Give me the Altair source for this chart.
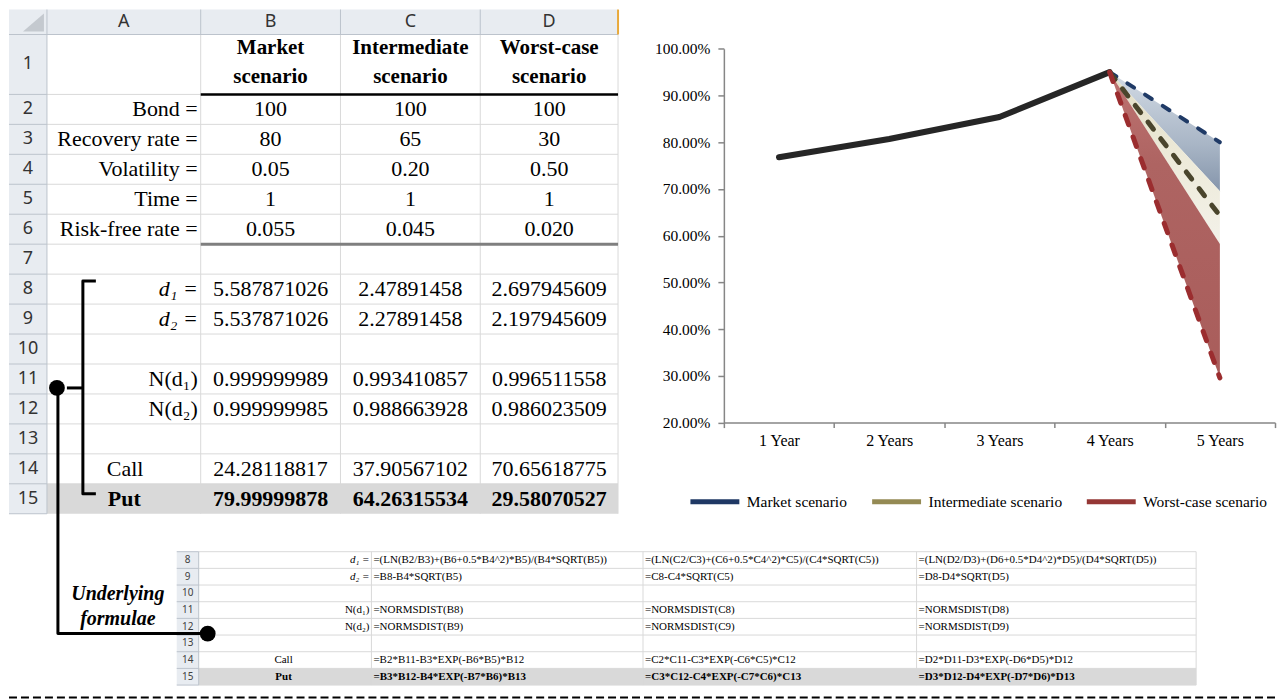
import altair as alt
import pandas as pd

SERIF = "Liberation Serif"
SANS = "Noto Sans"

# ---------------- chart data ----------------
years = ["1 Year", "2 Years", "3 Years", "4 Years", "5 Years"]
history = [0.768, 0.807, 0.854, 0.950]          # 1..4 years (common path)
scenarios = ["Market scenario", "Intermediate scenario", "Worst-case scenario"]
scenario_5y = [0.7999, 0.6426, 0.2958]           # 5-year value per scenario
band_top = [0.7999, 0.695, 0.582]                # shaded bands at 5 years
band_bottom = [0.695, 0.582, 0.2958]
legend_colors = ["#1F3864", "#948A54", "#953735"]
line_colors = ["#1F3A66", "#4A452C", "#9B2D2F"]

# ---------------- spreadsheet data ----------------
col_letters = ["A", "B", "C", "D"]
head_line1 = ["Market", "Intermediate", "Worst-case"]
head_line2 = ["scenario", "scenario", "scenario"]
input_labels = ["Bond =", "Recovery rate =", "Volatility =", "Time =", "Risk-free rate ="]
bond = ["100", "100", "100"]
recovery = ["80", "65", "30"]
volatility = ["0.05", "0.20", "0.50"]
time_ = ["1", "1", "1"]
riskfree = ["0.055", "0.045", "0.020"]
d_labels = ["d\u2081 =", "d\u2082 ="]
n_labels = ["N(d\u2081)", "N(d\u2082)"]
d1 = ["5.587871026", "2.47891458", "2.697945609"]
d2 = ["5.537871026", "2.27891458", "2.197945609"]
nd1 = ["0.999999989", "0.993410857", "0.996511558"]
nd2 = ["0.999999985", "0.988663928", "0.986023509"]
call = ["24.28118817", "37.90567102", "70.65618775"]
put = ["79.99999878", "64.26315534", "29.58070527"]

f_d1 = ["=(LN(B2/B3)+(B6+0.5*B4^2)*B5)/(B4*SQRT(B5))",
        "=(LN(C2/C3)+(C6+0.5*C4^2)*C5)/(C4*SQRT(C5))",
        "=(LN(D2/D3)+(D6+0.5*D4^2)*D5)/(D4*SQRT(D5))"]
f_d2 = ["=B8-B4*SQRT(B5)", "=C8-C4*SQRT(C5)", "=D8-D4*SQRT(D5)"]
f_nd1 = ["=NORMSDIST(B8)", "=NORMSDIST(C8)", "=NORMSDIST(D8)"]
f_nd2 = ["=NORMSDIST(B9)", "=NORMSDIST(C9)", "=NORMSDIST(D9)"]
f_call = ["=B2*B11-B3*EXP(-B6*B5)*B12", "=C2*C11-C3*EXP(-C6*C5)*C12", "=D2*D11-D3*EXP(-D6*D5)*D12"]
f_put = ["=B3*B12-B4*EXP(-B7*B6)*B13", "=C3*C12-C4*EXP(-C7*C6)*C13", "=D3*D12-D4*EXP(-D7*D6)*D13"]
caption = ["Underlying", "formulae"]

# ---------------- layout (page frame) ----------------
W, H = 1269, 692
S_X = [8, 46, 200, 340, 480, 618]


def s_top(r):
    return 33 if r == 1 else 93 + 30 * (r - 2)


def s_bot(r):
    return 93 if r == 1 else s_top(r) + 30


def s_mid(r):
    return (s_top(r) + s_bot(r)) / 2


s_cc = [(S_X[i] + S_X[i + 1]) / 2 for i in range(1, 5)]  # A..D centres

F_X = [176, 198, 371, 643, 917, 1197]
F_TOP, F_H = 551, 16.7


def f_top(r):
    return F_TOP + F_H * (r - 8)


def f_mid(r):
    return f_top(r) + F_H / 2


fx = alt.X("x:Q", scale=alt.Scale(domain=[8, 8 + W], range=[0, W], nice=False, zero=False), axis=None)
fy = alt.Y("y:Q", scale=alt.Scale(domain=[8, 8 + H], range=[0, H], nice=False, zero=False), axis=None)


def texts(rows, size, align="center", weight="normal", style="normal", font=SERIF, color="#000000"):
    df = pd.DataFrame(rows, columns=["x", "y", "t"])
    return alt.Chart(df).mark_text(fontSize=size, align=align, baseline="middle", fontWeight=weight,
                                   fontStyle=style, font=font, color=color).encode(x=fx, y=fy, text="t:N")


def rects(rows, fill):
    df = pd.DataFrame(rows, columns=["x", "x2", "y", "y2"])
    return alt.Chart(df).mark_rect(fill=fill, strokeWidth=0).encode(x=fx, x2="x2:Q", y=fy, y2="y2:Q")


def rules(rows, color, width, dash=None):
    df = pd.DataFrame(rows, columns=["x", "x2", "y", "y2"])
    kw = dict(color=color, strokeWidth=width)
    if dash:
        kw["strokeDash"] = dash
    return alt.Chart(df).mark_rule(**kw).encode(x=fx, x2="x2:Q", y=fy, y2="y2:Q")


def paths(rows, width):
    df = pd.DataFrame(rows, columns=["id", "o", "x", "y"])
    return alt.Chart(df).mark_line(color="#000000", strokeWidth=width, strokeJoin="round").encode(
        x=fx, y=fy, detail="id:N", order="o:Q")


def dots(rows, size):
    df = pd.DataFrame(rows, columns=["x", "y"])
    return alt.Chart(df).mark_point(filled=True, shape="circle", size=size, color="#000000", opacity=1).encode(x=fx, y=fy)


HDR_FILL = "#E8ECF1"
HDR_LINE = "#BCC3CC"
GRID = "#D9D9D9"

sheet_layers = []
# --- main sheet ---
sheet_layers.append(rects([(8, 618, 8, 33), (8, 46, 33, 513)], HDR_FILL))
sheet_layers.append(rects([(46, 618, 483, 513)], "#D9D9D9"))
tri = pd.DataFrame({"x": [22, 43], "y": [30, 12], "y2": [30, 30]})
sheet_layers.append(alt.Chart(tri).mark_area(color="#C4C9CF").encode(x=fx, y=fy, y2="y2:Q"))
grid_rows = []
for r in range(1, 15):
    grid_rows.append((46, 618, s_bot(r), s_bot(r)))
for xx in S_X[2:]:
    grid_rows.append((xx, xx, 33, 513))
sheet_layers.append(rules(grid_rows, GRID, 1))
hdr_rows = [(8, 618, 33, 33), (46, 46, 8, 513)]
for xx in S_X[2:5]:
    hdr_rows.append((xx, xx, 8, 33))
for r in range(1, 16):
    hdr_rows.append((8, 46, s_bot(r), s_bot(r)))
sheet_layers.append(rules(hdr_rows, HDR_LINE, 1))
sheet_layers.append(rules([(618, 618, 8, 33)], "#E9A93A", 2))
sheet_layers.append(rules([(200, 618, 93, 93)], "#000000", 2.5))
sheet_layers.append(rules([(200, 618, 243, 243)], "#7F7F7F", 3))

sheet_layers.append(texts([(s_cc[i], 20.5, col_letters[i]) for i in range(4)], 18, font=SANS, color="#333333"))
sheet_layers.append(texts([(27, s_mid(r), str(r)) for r in range(1, 16)], 18, font=SANS, color="#333333"))
sheet_layers.append(texts([(s_cc[i + 1], 47, head_line1[i]) for i in range(3)] +
                          [(s_cc[i + 1], 76, head_line2[i]) for i in range(3)], 21, weight="bold"))
lab_rows = [(197, s_mid(2 + i), input_labels[i]) for i in range(5)] + \
           [(197, s_mid(11 + i), n_labels[i]) for i in range(2)]
sheet_layers.append(texts(lab_rows, 22, align="right"))
sheet_layers.append(texts([(197, s_mid(8 + i), d_labels[i]) for i in range(2)], 22, align="right", style="italic"))
val_rows = []
for r, vals in [(2, bond), (3, recovery), (4, volatility), (5, time_), (6, riskfree),
                (8, d1), (9, d2), (11, nd1), (12, nd2), (14, call)]:
    for i in range(3):
        val_rows.append((s_cc[i + 1], s_mid(r), vals[i]))
sheet_layers.append(texts(val_rows, 22))
sheet_layers.append(texts([(s_cc[i + 1], s_mid(15), put[i]) for i in range(3)], 22, weight="bold"))
sheet_layers.append(texts([(106, s_mid(14), "Call")], 22, align="left"))
sheet_layers.append(texts([(107, s_mid(15), "Put")], 22, align="left", weight="bold"))

# --- formula sheet ---
sheet_layers.append(rects([(176, 198, F_TOP, f_top(16))], HDR_FILL))
sheet_layers.append(rects([(198, 1197, f_top(15), f_top(16))], "#D9D9D9"))
fg = []
for r in range(8, 17):
    fg.append((198, 1197, f_top(r), f_top(r)))
for xx in F_X[2:]:
    fg.append((xx, xx, F_TOP, f_top(16)))
sheet_layers.append(rules(fg, GRID, 1))
fh = [(198, 198, F_TOP, f_top(16))] + [(176, 198, f_top(r), f_top(r)) for r in range(8, 17)]
sheet_layers.append(rules(fh, HDR_LINE, 1))
sheet_layers.append(texts([(187, f_mid(r), str(r)) for r in range(8, 16)], 10, font=SANS, color="#404040"))
sheet_layers.append(texts([(369, f_mid(8 + i), d_labels[i]) for i in range(2)], 11, align="right", style="italic"))
sheet_layers.append(texts([(369, f_mid(11 + i), n_labels[i]) for i in range(2)], 11, align="right"))
sheet_layers.append(texts([(283, f_mid(14), "Call")], 11))
sheet_layers.append(texts([(283, f_mid(15), "Put")], 11, weight="bold"))
frows = []
for r, vals in [(8, f_d1), (9, f_d2), (11, f_nd1), (12, f_nd2), (14, f_call)]:
    for i in range(3):
        frows.append((F_X[2 + i] + 2, f_mid(r), vals[i]))
sheet_layers.append(texts(frows, 11, align="left"))
sheet_layers.append(texts([(F_X[2 + i] + 2, f_mid(15), f_put[i]) for i in range(3)], 11, align="left", weight="bold"))
sheet_layers.append(texts([(117, 593, caption[0]), (117, 618, caption[1])], 20, weight="bold", style="italic"))

# --- connectors ---
sheet_layers.append(paths([("br", 0, 95, 280), ("br", 1, 82, 280), ("br", 2, 82, 493), ("br", 3, 95, 493),
                           ("tick", 0, 66, 387), ("tick", 1, 82, 387),
                           ("link", 0, 57, 387), ("link", 1, 57, 633), ("link", 2, 207, 633)], 3))
sheet_layers.append(dots([(56, 387), (207, 633)], 250))
sheet_layers.append(rules([(8, 8 + W, 697, 697)], "#000000", 2, dash=[8, 4]))

sheet_group = alt.layer(*sheet_layers)

# ---------------- line chart ----------------
GRAY = "#868686"
PX0, PX1 = 724 - 8, 1276 - 8
PY_TOP, PY_BOT = 47.3 - 8, 421.7 - 8

ax_x = alt.Axis(orient="bottom", offset=PY_BOT - H, tickBand="extent", tickSize=5, tickWidth=1.5,
                tickColor=GRAY, domainColor=GRAY, domainWidth=1.5, labelAngle=0, labelFont=SERIF,
                labelFontSize=16, labelColor="#000000", labelPadding=5, grid=False, title=None)
ax_y = alt.Axis(orient="left", offset=-PX0, values=[0.2, 0.3, 0.4, 0.5, 0.6, 0.7, 0.8, 0.9, 1.0],
                format=".2%", tickSize=6, tickWidth=1.5, tickColor=GRAY, domainColor=GRAY, domainWidth=1.5,
                labelFont=SERIF, labelFontSize=15.5, labelColor="#000000", labelPadding=8, grid=False, title=None)
x_scale = alt.Scale(type="band", domain=years, range=[PX0, PX1], paddingInner=0, paddingOuter=0)
y_scale = alt.Scale(domain=[0.2, 1.0], range=[PY_BOT, PY_TOP], nice=False, zero=False)
cx = alt.X("year:N", scale=x_scale, bandPosition=0.5, axis=ax_x, title=None)


def cy(field):
    return alt.Y(field, scale=y_scale, axis=ax_y, title=None)


grads = [
    [("#D3DBE5", 0), ("#A9B6C6", 0.6), ("#8595AB", 1)],
    [("#E2DDC4", 0), ("#EDEAD9", 0.5), ("#F3F1E9", 1)],
    [("#BE7371", 0), ("#AE6462", 0.3), ("#A95D5B", 1)],
]
chart_layers = []
for i in range(3):
    adf = pd.DataFrame({"year": [years[3], years[4]],
                        "top": [history[3], band_top[i]],
                        "bottom": [history[3], band_bottom[i]]})
    g = alt.Gradient(gradient="linear", x1=0, x2=0, y1=0, y2=1,
                     stops=[alt.GradientStop(color=c, offset=o) for c, o in grads[i]])
    chart_layers.append(alt.Chart(adf).mark_area(fill=g, opacity=1).encode(
        x=cx, y=cy("top:Q"), y2=alt.Y2("bottom:Q")))

hist_df = pd.DataFrame({"year": years[:4], "v": history})
chart_layers.append(alt.Chart(hist_df).mark_line(color="#262626", strokeWidth=6, strokeCap="round",
                                                 strokeJoin="round").encode(x=cx, y=cy("v:Q")))
dash_df = pd.DataFrame({"scenario": [s for s in scenarios for _ in range(2)],
                        "year": [years[3], years[4]] * 3,
                        "v": [val for s5 in scenario_5y for val in (history[3], s5)]})
dash_styles = [([8, 13], 4), ([9, 12], 5), ([10, 13], 5)]
for i, s in enumerate(scenarios):
    sub = dash_df[dash_df["scenario"] == s]
    chart_layers.append(alt.Chart(sub).mark_line(color=line_colors[i], strokeWidth=dash_styles[i][1],
                                                 strokeDash=dash_styles[i][0], strokeCap="round").encode(
        x=cx, y=cy("v:Q")))
chart_layers.append(alt.Chart(dash_df).mark_line(opacity=0, strokeWidth=5).encode(
    x=cx, y=cy("v:Q"),
    color=alt.Color("scenario:N", scale=alt.Scale(domain=scenarios, range=legend_colors),
                    legend=alt.Legend(orient="none", legendX=680, legendY=466, direction="horizontal",
                                      title=None, symbolType="stroke", symbolSize=2400, symbolStrokeWidth=5,
                                      symbolOpacity=1, labelFont=SERIF, labelFontSize=15.5,
                                      labelColor="#000000", columnPadding=14, labelOffset=5,
                                      labelLimit=0, padding=0))))
chart_group = alt.layer(*chart_layers)

chart = alt.layer(sheet_group, chart_group).resolve_scale(
    x="independent", y="independent"
).properties(width=W, height=H, padding=0).configure_view(stroke=None)

chart.save("out.html", embed_options={"renderer": "svg", "actions": False})
